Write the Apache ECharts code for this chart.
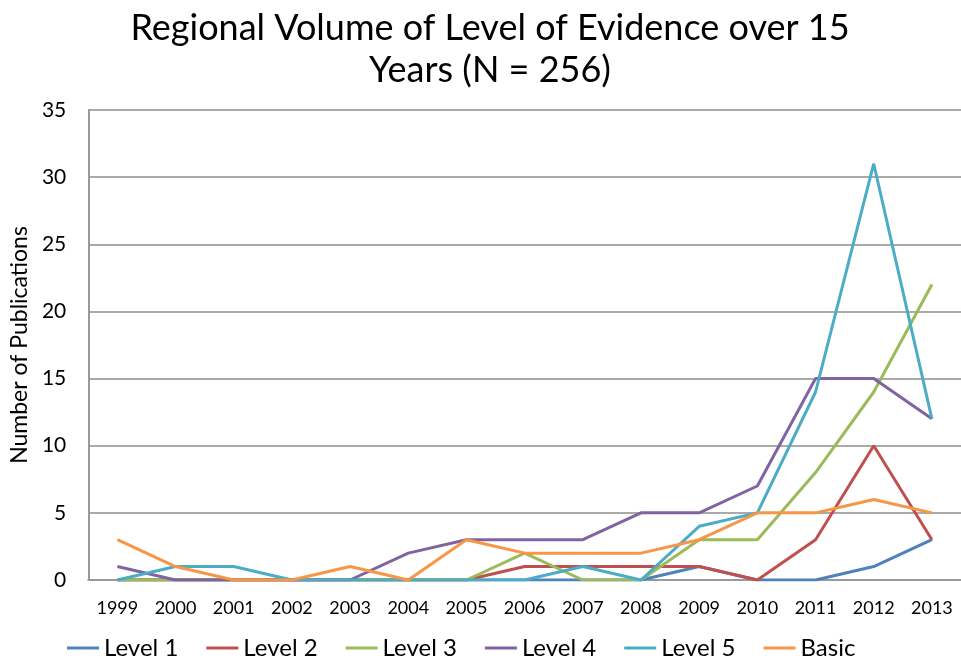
<!DOCTYPE html>
<html>
<head>
<meta charset="utf-8">
<script src="https://cdn.jsdelivr.net/npm/echarts@6/dist/echarts.min.js"></script>
<style>
  html, body { margin: 0; padding: 0; background: #fff; }
  #chart { width: 961px; height: 669px; }
</style>
</head>
<body>
<div id="chart"></div>
<script>
const years = ['1999', '2000', '2001', '2002', '2003', '2004', '2005', '2006', '2007', '2008', '2009', '2010', '2011', '2012', '2013']

const level1 = [0, 0, 0, 0, 0, 0, 0, 0, 0, 0, 1, 0, 0, 1, 3]
const level2 = [0, 0, 0, 0, 0, 0, 0, 1, 1, 1, 1, 0, 3, 10, 3]
const level3 = [0, 0, 0, 0, 0, 0, 0, 2, 0, 0, 3, 3, 8, 14, 22]
const level4 = [1, 0, 0, 0, 0, 2, 3, 3, 3, 5, 5, 7, 15, 15, 12]
const level5 = [0, 1, 1, 0, 0, 0, 0, 0, 1, 0, 4, 5, 14, 31, 12]
const basic = [3, 1, 0, 0, 1, 0, 3, 2, 2, 2, 3, 5, 5, 6, 5]

const seriesNames = ['Level 1', 'Level 2', 'Level 3', 'Level 4', 'Level 5', 'Basic']
const seriesValues = [level1, level2, level3, level4, level5, basic]
const seriesColors = ['#4F81BD', '#C0504D', '#9BBB59', '#8064A2', '#4BACC6', '#F79646']

const fontFamily = 'Lato, "Open Sans", sans-serif'

const chart = echarts.init(document.getElementById('chart'))

chart.setOption({
  animation: false,
  textStyle: { fontFamily },
  title: {
    text: 'Regional Volume of Level of Evidence over 15\nYears (N = 256)',
    left: 485,
    textAlign: 'center',
    top: 2,
    textStyle: { fontSize: 36, fontWeight: 'normal', color: '#000', lineHeight: 42, fontFamily },
  },
  legend: {
    bottom: 4,
    left: 62,
    itemGap: 28,
    itemWidth: 32,
    itemHeight: 3,
    icon: 'rect',
    textStyle: { fontSize: 24, color: '#000', fontFamily },
    data: seriesNames,
  },
  grid: {
    left: 85,
    right: -8,
    top: 110,
    bottom: 89,
  },
  xAxis: {
    type: 'category',
    data: years,
    boundaryGap: true,
    axisLine: { lineStyle: { color: '#999', width: 2 } },
    axisTick: { show: false },
    axisLabel: { fontSize: 18, color: '#000', margin: 19, interval: 0 },
  },
  yAxis: {
    type: 'value',
    min: 0,
    max: 35,
    interval: 5,
    name: 'Number of Publications',
    nameLocation: 'middle',
    nameGap: 56,
    nameTextStyle: { fontSize: 23, color: '#000', fontFamily },
    axisLine: { show: true, lineStyle: { color: '#999', width: 2 } },
    axisTick: { show: false },
    axisLabel: { fontSize: 21, color: '#000', margin: 22 },
    splitLine: { lineStyle: { color: '#aaa', width: 2 } },
  },
  series: seriesNames.map((name, idx) => ({
    name,
    type: 'line',
    data: seriesValues[idx],
    symbol: 'none',
    lineStyle: { width: 3, color: seriesColors[idx] },
    itemStyle: { color: seriesColors[idx] },
  })),
})
</script>
</body>
</html>
